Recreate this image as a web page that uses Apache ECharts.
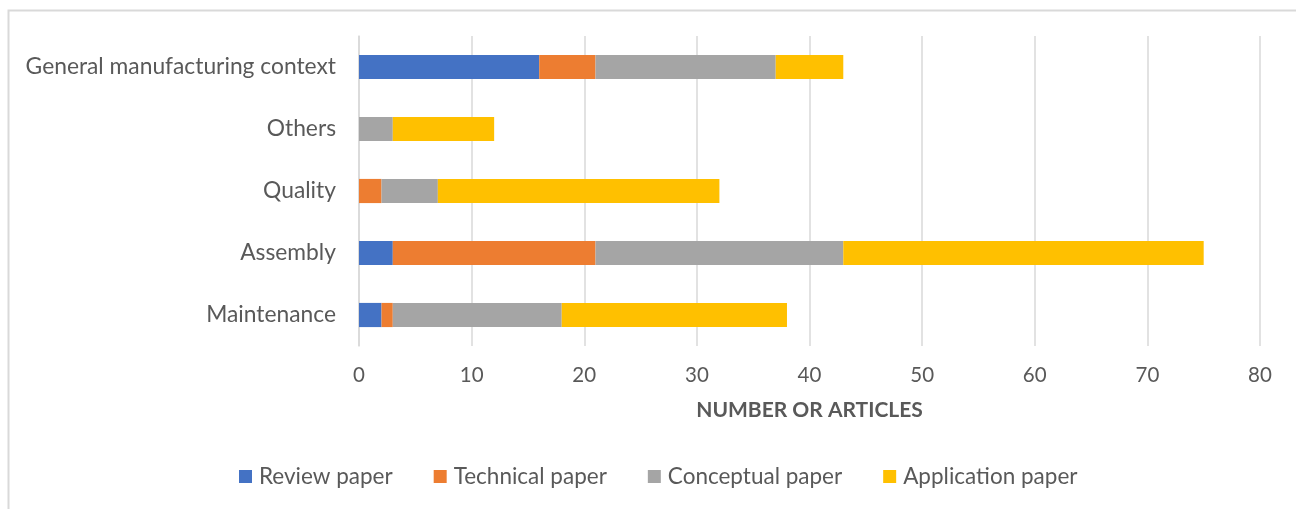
<!DOCTYPE html>
<html>
<head>
<meta charset="utf-8">
<script src="https://cdn.jsdelivr.net/npm/echarts@6/dist/echarts.min.js"></script>
<style>
  html, body { margin: 0; padding: 0; background: #fff; }
  #chart { width: 1296px; height: 509px; }
</style>
</head>
<body>
<div id="chart"></div>
<script>
// categories, bottom to top
const categories = ["Maintenance", "Assembly", "Quality", "Others", "General manufacturing context"];
const seriesNames = ["Review paper", "Technical paper", "Conceptual paper", "Application paper"];
const reviewPaper = [2, 3, 0, 0, 16];
const technicalPaper = [1, 18, 2, 0, 5];
const conceptualPaper = [15, 22, 5, 3, 16];
const applicationPaper = [20, 32, 25, 9, 6];
const xTicks = [0, 10, 20, 30, 40, 50, 60, 70, 80];

const colors = ["#4472C4", "#ED7D31", "#A5A5A5", "#FFC000"];
const textColor = "#595959";
const font = "Lato";

const chart = echarts.init(document.getElementById("chart"));

const allData = [reviewPaper, technicalPaper, conceptualPaper, applicationPaper];

chart.setOption({
  animation: false,
  color: colors,
  graphic: [{
    type: "rect",
    shape: { x: 8.5, y: 10.5, width: 1400, height: 600 },
    style: { fill: "none", stroke: "#d9d9d9", lineWidth: 2 },
    silent: true
  }],
  grid: { left: 359, right: 36, top: 36, bottom: 163 },
  legend: {
    top: 460,
    left: 234,
    itemWidth: 13,
    itemHeight: 13,
    itemGap: 41,
    icon: "rect",
    textStyle: { color: textColor, fontSize: 22.5, fontFamily: font, padding: [0, 0, 0, 2] },
    data: seriesNames
  },
  xAxis: {
    type: "value",
    min: xTicks[0],
    max: xTicks[xTicks.length - 1],
    interval: 10,
    name: "NUMBER OR ARTICLES",
    nameLocation: "middle",
    nameGap: 54,
    nameTextStyle: { color: textColor, fontSize: 21, fontWeight: "bold", fontFamily: font },
    axisLine: { show: false },
    axisTick: { show: false },
    axisLabel: { color: textColor, fontSize: 20.5, fontFamily: font, margin: 19 },
    splitLine: { lineStyle: { color: "#d9d9d9", width: 1.5 } }
  },
  yAxis: {
    type: "category",
    data: categories,
    axisLine: { show: true, lineStyle: { color: "#d9d9d9", width: 1.5 } },
    axisTick: { show: false },
    axisLabel: { color: textColor, fontSize: 22.8, fontFamily: font, margin: 23 }
  },
  series: seriesNames.map((name, i) => ({
    name: name,
    type: "bar",
    stack: "total",
    barWidth: "39%",
    data: allData[i]
  }))
});
</script>
</body>
</html>
